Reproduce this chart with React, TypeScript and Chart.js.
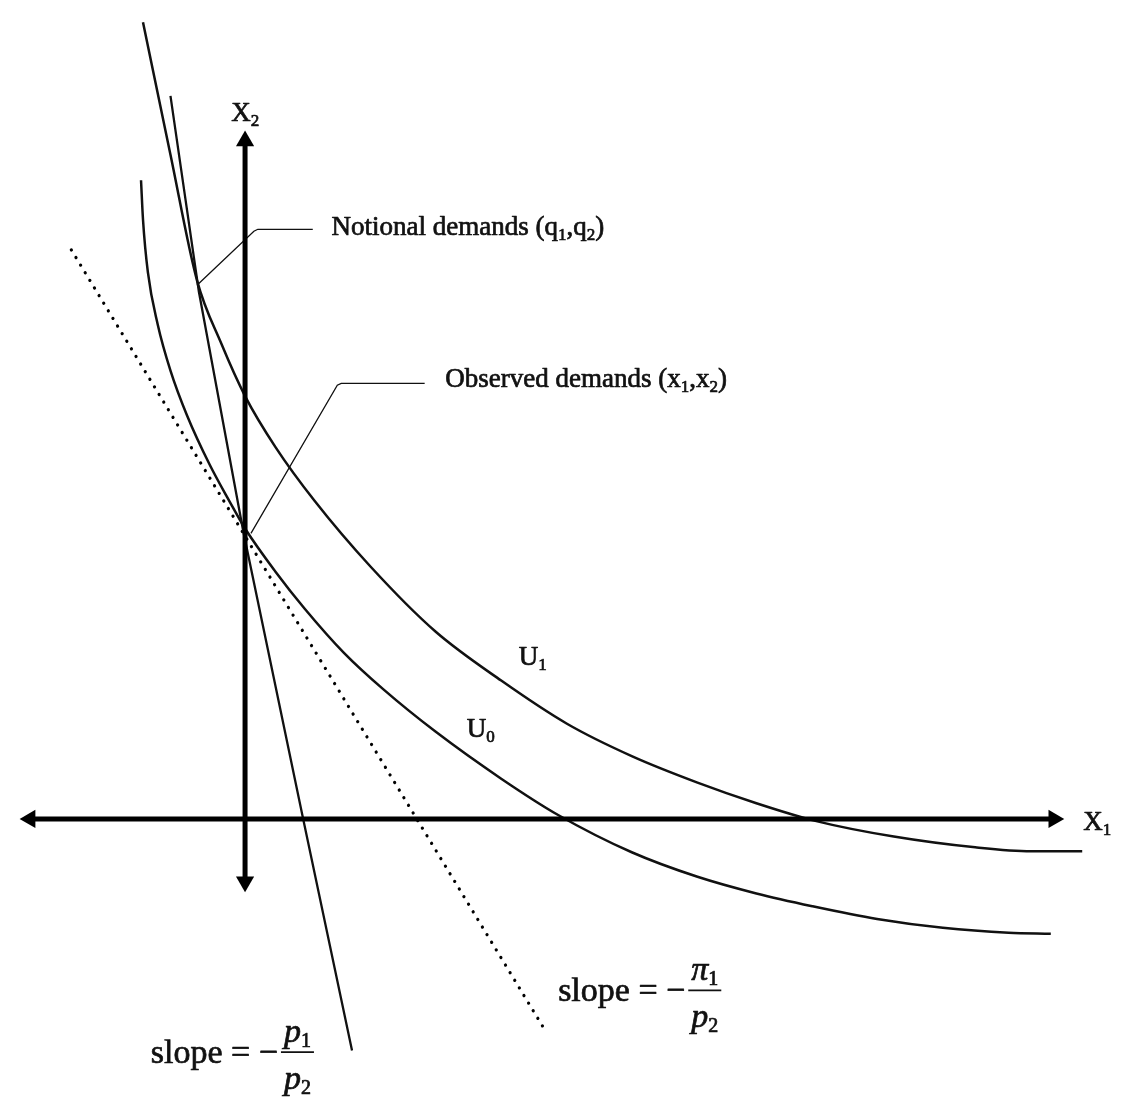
import { useEffect, useRef } from "react";
import { Chart, registerables, type Plugin } from "chart.js";

Chart.register(...registerables);

type Pt = [number, number];

// Diagram units: origin where the two axes cross, 1 unit ~ 100px on the scan.
const X_RANGE: Pt = [-2.39, 8.91];
const X2_RANGE: Pt = [-2.86, 8.24];

// the two axes (ends sit under the arrowheads)
const AXIS_X1: Pt[] = [[-2.19, 0], [8.24, 0]];
const AXIS_X2: Pt[] = [[0, 6.91], [0, -0.64]];

// indifference curves
const U1: Pt[] = [
  [-1.04, 8.12], [-0.76, 6.77], [-0.49, 5.49], [-0.24, 4.84], [0.0, 4.31],
  [0.31, 3.79], [0.71, 3.24], [1.28, 2.57], [1.94, 1.91], [2.61, 1.41],
  [3.28, 0.97], [3.94, 0.64], [4.61, 0.37], [5.21, 0.16], [5.81, -0.02],
  [6.61, -0.18], [7.44, -0.29], [8.01, -0.33], [8.53, -0.33],
];
const U0: Pt[] = [
  [-1.06, 6.51], [-1.04, 6.11], [-0.99, 5.57], [-0.89, 5.04], [-0.76, 4.57],
  [-0.59, 4.11], [-0.36, 3.61], [-0.16, 3.24], [0.0, 2.96], [0.31, 2.52],
  [0.61, 2.14], [1.01, 1.69], [1.41, 1.32], [1.94, 0.89], [2.61, 0.41],
  [3.19, 0.04], [3.94, -0.34], [4.61, -0.59], [5.21, -0.76], [5.78, -0.89],
  [6.44, -1.02], [7.11, -1.11], [7.78, -1.16], [8.21, -1.17],
];

// budget lines: slope -p1/p2 (solid) and -pi1/p2 (dotted)
const BUDGET_P: Pt[] = [[-0.76, 7.37], [-0.47, 5.37], [-0.02, 2.94], [0.59, 0.01], [1.09, -2.36]];
const BUDGET_PI: Pt[] = [[-1.77, 5.8], [3.03, -2.11]];

// leader lines to the two demand points
const LEAD_NOTIONAL: Pt[] = [[-0.49, 5.44], [0.09, 5.99], [0.13, 6.01], [0.69, 6.01]];
const LEAD_OBSERVED: Pt[] = [[0.06, 2.91], [0.94, 4.42], [0.98, 4.44], [1.83, 4.44]];

const FONT = '"Liberation Serif", "Times New Roman", serif';
const INK = "#111";

type Seg = { t: string; s: number; i?: boolean; dy?: number };
const sub = (t: string, s = 17, dy = 5): Seg => ({ t, s, dy });
const txt = (t: string, s = 27, i = false): Seg => ({ t, s, i });

// text annotations, anchored in diagram units (left edge, baseline)
const LABELS: { at: Pt; segs: Seg[] }[] = [
  { at: [-0.14, 7.11], segs: [txt("X"), sub("2")] },
  { at: [8.54, -0.11], segs: [txt("X"), sub("1")] },
  { at: [0.88, 5.95], segs: [txt("Notional demands (q"), sub("1"), txt(",q"), sub("2"), txt(")")] },
  { at: [2.04, 4.4], segs: [txt("Observed demands (x"), sub("1"), txt(",x"), sub("2"), txt(")")] },
  { at: [2.79, 1.57], segs: [txt("U"), sub("1")] },
  { at: [2.26, 0.83], segs: [txt("U"), sub("0")] },
];

const FRACTIONS: { at: Pt; lead: string; num: Seg[]; den: Seg[] }[] = [
  {
    at: [-0.96, -2.49],
    lead: "slope = \u2212",
    num: [txt("p", 34, true), sub("1", 20)],
    den: [txt("p", 34, true), sub("2", 20)],
  },
  {
    at: [3.19, -1.86],
    lead: "slope = \u2212",
    num: [txt("\u03c0", 34, true), sub("1", 20)],
    den: [txt("p", 34, true), sub("2", 20)],
  },
];

const toXY = (pts: Pt[]) => pts.map(([x, y]) => ({ x, y }));

function segWidth(ctx: CanvasRenderingContext2D, segs: Seg[]) {
  let w = 0;
  for (const g of segs) {
    ctx.font = `${g.i ? "italic " : ""}${g.s}px ${FONT}`;
    w += ctx.measureText(g.t).width;
  }
  return w;
}

// scanned type is heavy, so each run gets a thin stroke under the fill
function drawSegs(ctx: CanvasRenderingContext2D, segs: Seg[], x: number, y: number) {
  let cx = x;
  for (const g of segs) {
    ctx.font = `${g.i ? "italic " : ""}${g.s}px ${FONT}`;
    ctx.lineWidth = 0.7;
    ctx.strokeText(g.t, cx, y + (g.dy ?? 0));
    ctx.fillText(g.t, cx, y + (g.dy ?? 0));
    cx += ctx.measureText(g.t).width;
  }
  return cx - x;
}

const textPlugin: Plugin<"scatter"> = {
  id: "diagramText",
  afterDatasetsDraw(chart) {
    const { ctx } = chart;
    const sx = chart.scales.x;
    const sy = chart.scales.y;
    ctx.save();
    ctx.fillStyle = INK;
    ctx.strokeStyle = INK;
    ctx.lineJoin = "round";
    ctx.textBaseline = "alphabetic";
    ctx.textAlign = "left";
    for (const l of LABELS) {
      drawSegs(ctx, l.segs, sx.getPixelForValue(l.at[0]), sy.getPixelForValue(l.at[1]));
    }
    for (const f of FRACTIONS) {
      const x = sx.getPixelForValue(f.at[0]);
      const y = sy.getPixelForValue(f.at[1]);
      const lw = drawSegs(ctx, [txt(f.lead, 34)], x, y);
      const nw = segWidth(ctx, f.num);
      const dw = segWidth(ctx, f.den);
      const fw = Math.max(nw, dw) + 6;
      const fx = x + lw + 3;
      ctx.lineWidth = 1.8;
      ctx.beginPath();
      ctx.moveTo(fx, y - 11);
      ctx.lineTo(fx + fw, y - 11);
      ctx.stroke();
      drawSegs(ctx, f.num, fx + (fw - nw) / 2, y - 21);
      drawSegs(ctx, f.den, fx + (fw - dw) / 2, y + 26);
    }
    ctx.restore();
  },
};

export default function App() {
  const canvasRef = useRef<HTMLCanvasElement>(null);

  useEffect(() => {
    document.body.style.margin = "0";
    if (!canvasRef.current) return;

    const line = (data: Pt[], width: number, extra: object = {}) => ({
      data: toXY(data),
      showLine: true,
      borderColor: INK,
      borderWidth: width,
      pointRadius: 0,
      tension: 0,
      ...extra,
    });

    const arrows = (rot: number[]) => ({
      pointStyle: "triangle",
      pointRadius: 10.5,
      pointRotation: rot,
      pointBackgroundColor: "#000",
      pointBorderWidth: 0,
      borderColor: "#000",
    });

    const chart = new Chart(canvasRef.current, {
      type: "scatter",
      data: {
        datasets: [
          line(AXIS_X1, 5, arrows([270, 90])),
          line(AXIS_X2, 5, arrows([0, 180])),
          line(U1, 2.5, { cubicInterpolationMode: "monotone" }),
          line(U0, 2.5, { cubicInterpolationMode: "monotone" }),
          line(BUDGET_P, 2.3),
          line(BUDGET_PI, 3.2, { borderColor: "#000", borderDash: [0.1, 8.8], borderCapStyle: "round" }),
          line(LEAD_NOTIONAL, 1.3),
          line(LEAD_OBSERVED, 1.3),
        ],
      },
      options: {
        animation: false,
        responsive: true,
        maintainAspectRatio: false,
        events: [],
        layout: { padding: 0 },
        scales: {
          x: { type: "linear", min: X_RANGE[0], max: X_RANGE[1], display: false },
          y: { type: "linear", min: X2_RANGE[0], max: X2_RANGE[1], display: false },
        },
        plugins: {
          legend: { display: false },
          tooltip: { enabled: false },
        },
      },
      plugins: [textPlugin],
    });

    return () => chart.destroy();
  }, []);

  return (
    <div style={{ width: 1130, height: 1110, position: "relative", overflow: "hidden", background: "#fff" }}>
      <canvas ref={canvasRef} />
    </div>
  );
}
